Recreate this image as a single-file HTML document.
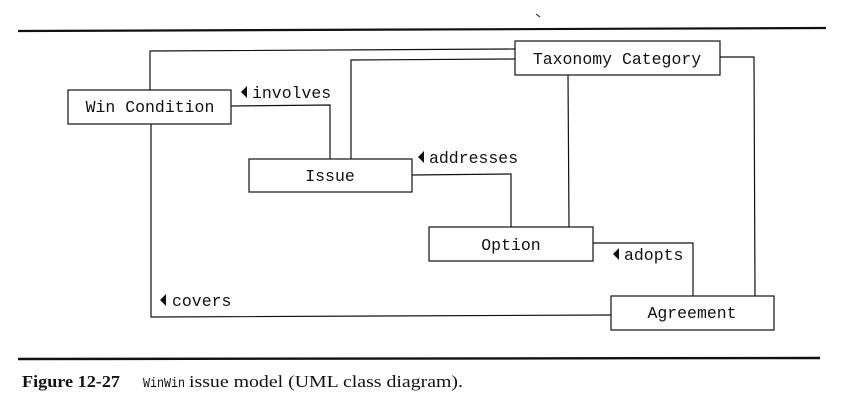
<!DOCTYPE html>
<html><head><meta charset="utf-8"><style>
html,body{margin:0;padding:0;background:#fff;width:844px;height:416px;overflow:hidden}
svg{display:block}
.m{font-family:"Liberation Mono",monospace;font-size:16.5px;fill:#111}
.s{font-family:"Liberation Serif",serif;font-size:17px;fill:#111}
</style></head><body>
<svg width="844" height="416" viewBox="0 0 844 416" xmlns="http://www.w3.org/2000/svg">
<g stroke="#111" fill="none" stroke-width="1.2">
<line x1="18" y1="31" x2="826" y2="28" stroke-width="2.2"/>
<line x1="18" y1="359" x2="820" y2="358" stroke-width="2.4"/>
<line x1="536" y1="14" x2="540" y2="17" stroke-width="1"/>
<polyline points="150,90 150,51 515,49"/>
<polyline points="151,124 151,317 611,315"/>
<polyline points="231,106 330,105 330,159"/>
<polyline points="351,159 351,60 515,59"/>
<polyline points="412,175 511,174 511,227"/>
<polyline points="568,75 569,227"/>
<polyline points="593,243 693,243 693,296"/>
<polyline points="720,57 754,57 755,296"/>
<rect x="68" y="90" width="163" height="34" fill="#fff"/>
<rect x="249" y="159" width="163" height="33" fill="#fff"/>
<rect x="429" y="227" width="164" height="34" fill="#fff"/>
<rect x="611" y="296" width="163" height="34" fill="#fff"/>
<rect x="515" y="41" width="205" height="34" fill="#fff"/>
</g>
<g fill="#111">
<polygon points="247,86 247,98 241,92"/>
<polygon points="424,151 424,163 418,157"/>
<polygon points="619,248 619,260 613,254"/>
<polygon points="166,294 166,306 160,300"/>
</g>
<text class="m" x="150" y="112" text-anchor="middle">Win Condition</text>
<text class="m" x="330" y="181" text-anchor="middle">Issue</text>
<text class="m" x="511" y="250" text-anchor="middle">Option</text>
<text class="m" x="692" y="318" text-anchor="middle">Agreement</text>
<text class="m" x="617" y="64" text-anchor="middle">Taxonomy Category</text>
<text class="m" x="252" y="98">involves</text>
<text class="m" x="429" y="163">addresses</text>
<text class="m" x="624" y="260">adopts</text>
<text class="m" x="172" y="306">covers</text>
<text class="s" x="22" y="387" font-weight="bold" textLength="98" lengthAdjust="spacingAndGlyphs">Figure 12-27</text>
<text class="m" x="143" y="387" style="font-size:14px" textLength="42" lengthAdjust="spacingAndGlyphs">WinWin</text>
<text class="s" x="189" y="387" textLength="274" lengthAdjust="spacingAndGlyphs">issue model (UML class diagram).</text>
</svg>
</body></html>
